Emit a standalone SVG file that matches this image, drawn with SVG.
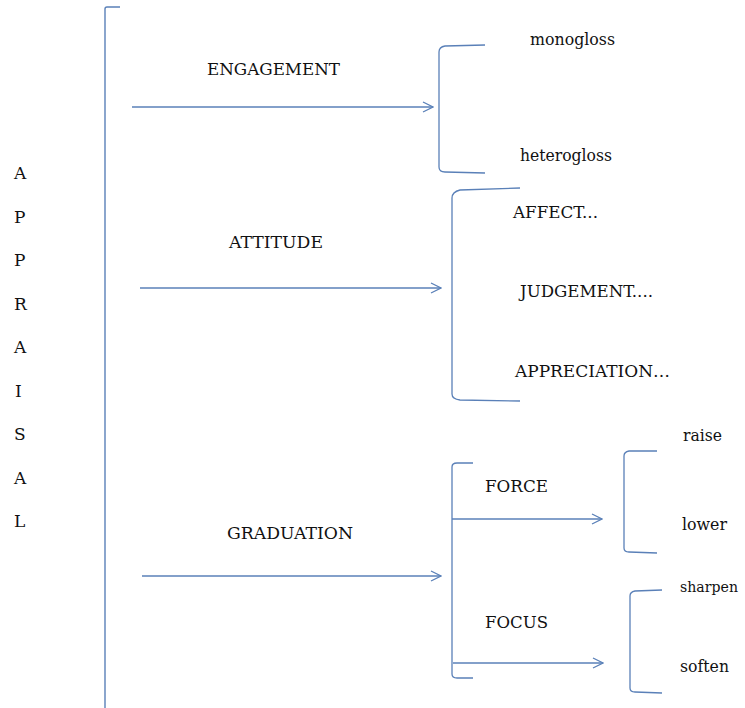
<svg xmlns="http://www.w3.org/2000/svg" width="745" height="708" viewBox="0 0 745 708">
  <style>
    text { font-family: "DejaVu Serif", "Liberation Serif", serif; font-size: 17px; fill: #111; }
    .ln { fill: none; stroke: #5a80b8; stroke-width: 1.4; }
    .br { fill: none; stroke: #5a80b8; stroke-width: 1.3; }
  </style>
  <defs>
    <marker id="head" viewBox="0 0 12 12" refX="11" refY="6" markerWidth="12" markerHeight="12" markerUnits="userSpaceOnUse" orient="auto">
      <path d="M1,1 L11,6 L1,11" fill="none" stroke="#5a80b8" stroke-width="1.3"/>
    </marker>
  </defs>
  <rect width="745" height="708" fill="#fff"/>

  <!-- vertical title -->
  <g id="appraisal">
    <text x="14" y="179">A</text>
    <text x="14" y="223">P</text>
    <text x="14" y="266">P</text>
    <text x="14" y="310">R</text>
    <text x="14" y="353">A</text>
    <text x="15" y="397">I</text>
    <text x="14" y="440">S</text>
    <text x="14" y="484">A</text>
    <text x="14" y="527">L</text>
  </g>

  <!-- brackets -->
  <g id="brackets">
    <path class="ln" d="M120,7 L107,7 Q105,7 105,9 L105,708"/>
    <path class="br" d="M485,45 L445,46 Q439,47 439,52 L439,167 Q439,172 445,172 L485,173"/>
    <path class="br" d="M520,188 L460,190 Q452,192 452,198 L452,394 Q452,399 460,400 L520,401"/>
    <path class="br" d="M473,463 L457,463 Q452,463 452,467 L452,674 Q452,678 457,678 L473,678"/>
    <path class="br" d="M657,451 L629,451 Q624,452 624,456 L624,548 Q624,552 629,552 L657,553"/>
    <path class="br" d="M662,590 L635,591 Q630,592 630,596 L630,688 Q630,692 635,692 L662,693"/>
  </g>

  <!-- connectors -->
  <g id="connectors">
    <line class="ln" x1="132" y1="107" x2="433" y2="107" marker-end="url(#head)"/>
    <line class="ln" x1="140" y1="288" x2="441" y2="288" marker-end="url(#head)"/>
    <line class="ln" x1="142" y1="576" x2="441" y2="576" marker-end="url(#head)"/>
    <line class="ln" x1="452" y1="519" x2="602" y2="519" marker-end="url(#head)"/>
    <line class="ln" x1="453" y1="663" x2="603" y2="663" marker-end="url(#head)"/>
  </g>

  <g id="engagement">
    <text x="207" y="75" textLength="133" lengthAdjust="spacingAndGlyphs">ENGAGEMENT</text>
  </g>
  <g id="monogloss"><text x="530" y="45" textLength="85" lengthAdjust="spacingAndGlyphs">monogloss</text></g>
  <g id="heterogloss"><text x="520" y="161" textLength="92" lengthAdjust="spacingAndGlyphs">heterogloss</text></g>

  <g id="attitude">
    <text x="229" y="248" textLength="94" lengthAdjust="spacingAndGlyphs">ATTITUDE</text>
  </g>
  <g id="affect"><text x="513" y="218" textLength="85" lengthAdjust="spacingAndGlyphs">AFFECT...</text></g>
  <g id="judgement"><text x="520" y="297" textLength="133" lengthAdjust="spacingAndGlyphs">JUDGEMENT....</text></g>
  <g id="appreciation"><text x="515" y="377" textLength="155" lengthAdjust="spacingAndGlyphs">APPRECIATION…</text></g>

  <g id="graduation">
    <text x="227" y="539" textLength="126" lengthAdjust="spacingAndGlyphs">GRADUATION</text>
  </g>
  <g id="force"><text x="485" y="492" textLength="63" lengthAdjust="spacingAndGlyphs">FORCE</text></g>
  <g id="focus"><text x="485" y="628" textLength="63" lengthAdjust="spacingAndGlyphs">FOCUS</text></g>
  <g id="raise"><text x="683" y="441" textLength="39" lengthAdjust="spacingAndGlyphs">raise</text></g>
  <g id="lower"><text x="682" y="530" textLength="45" lengthAdjust="spacingAndGlyphs">lower</text></g>
  <g id="sharpen"><text x="680" y="592" style="font-size:15px" textLength="58" lengthAdjust="spacingAndGlyphs">sharpen</text></g>
  <g id="soften"><text x="680" y="672" textLength="49" lengthAdjust="spacingAndGlyphs">soften</text></g>
</svg>
